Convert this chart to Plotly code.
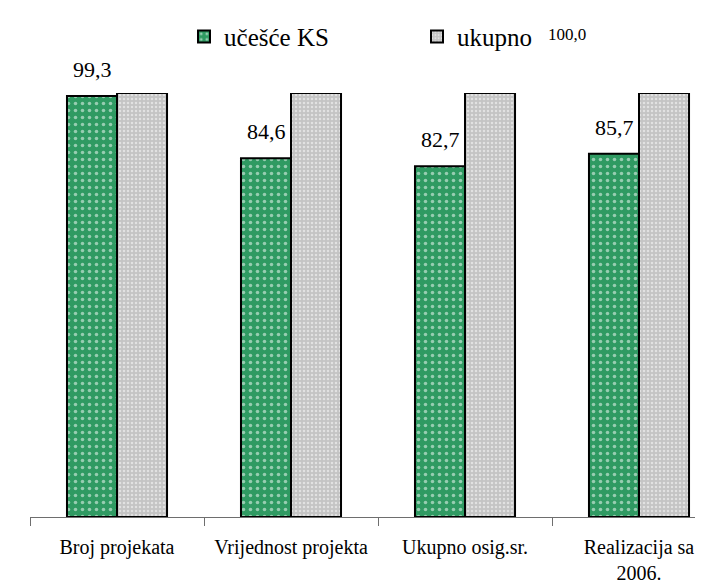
import plotly.graph_objects as go

categories = ["Broj projekata", "Vrijednost projekta", "Ukupno osig.sr.", "Realizacija sa<br>2006."]
ucesce_ks = [99.3, 84.6, 82.7, 85.7]
ukupno = [100.0, 100.0, 100.0, 100.0]
ucesce_labels = ["99,3", "84,6", "82,7", "85,7"]
ukupno_label = "100,0"

FONT = "serif"

fig = go.Figure()
fig.add_trace(go.Bar(
    x=categories, y=ucesce_ks, name="učešće KS",
    marker=dict(color="#2f9a62", line=dict(color="black", width=2),
                pattern=dict(shape=".", fgcolor="white", bgcolor="#2f9a62", size=7, solidity=0.2)),
))
fig.add_trace(go.Bar(
    x=categories, y=ukupno, name="ukupno",
    marker=dict(color="#c8c8c8", line=dict(color="black", width=2),
                pattern=dict(shape=".", fgcolor="white", bgcolor="#c4c4c4", size=4, solidity=0.3)),
))

for c, v, t in zip(categories, ucesce_ks, ucesce_labels):
    fig.add_annotation(x=c, y=v, xref="x", yref="y", text=t, showarrow=False,
                       xshift=-25, yshift=12, yanchor="bottom", xanchor="center",
                       font=dict(family=FONT, size=22, color="black"))

fig.add_annotation(x=0.7885, y=1.139, xref="paper", yref="paper", text=ukupno_label,
                   xanchor="center", yanchor="middle", showarrow=False,
                   font=dict(family=FONT, size=17, color="black"))

fig.update_layout(
    width=703, height=585,
    margin=dict(l=22, r=0, t=85, b=76, autoexpand=False),
    paper_bgcolor="white", plot_bgcolor="white",
    barmode="group", bargap=0.425, bargroupgap=0,
    font=dict(family=FONT, size=20, color="black"),
    showlegend=True,
    legend=dict(orientation="h", xref="container", yref="container",
                x=0.2504, xanchor="left", y=0.99, yanchor="top",
                font=dict(family=FONT, size=25, color="black"),
                entrywidth=188, entrywidthmode="pixels", itemwidth=30,
                bgcolor="rgba(0,0,0,0)"),
    xaxis=dict(
        type="category",
        range=[-0.5, -0.5 + 681 / 174],
        showline=True, linecolor="#6e6e6e", linewidth=1,
        ticks="outside", tickson="boundaries", ticklen=8, tickcolor="#6e6e6e",
        showgrid=False, zeroline=False, ticklabelstandoff=12,
        tickfont=dict(family=FONT, size=20, color="black"),
    ),
    yaxis=dict(range=[0, 100], visible=False, showgrid=False, zeroline=False),
)

fig.write_html("out.html")
